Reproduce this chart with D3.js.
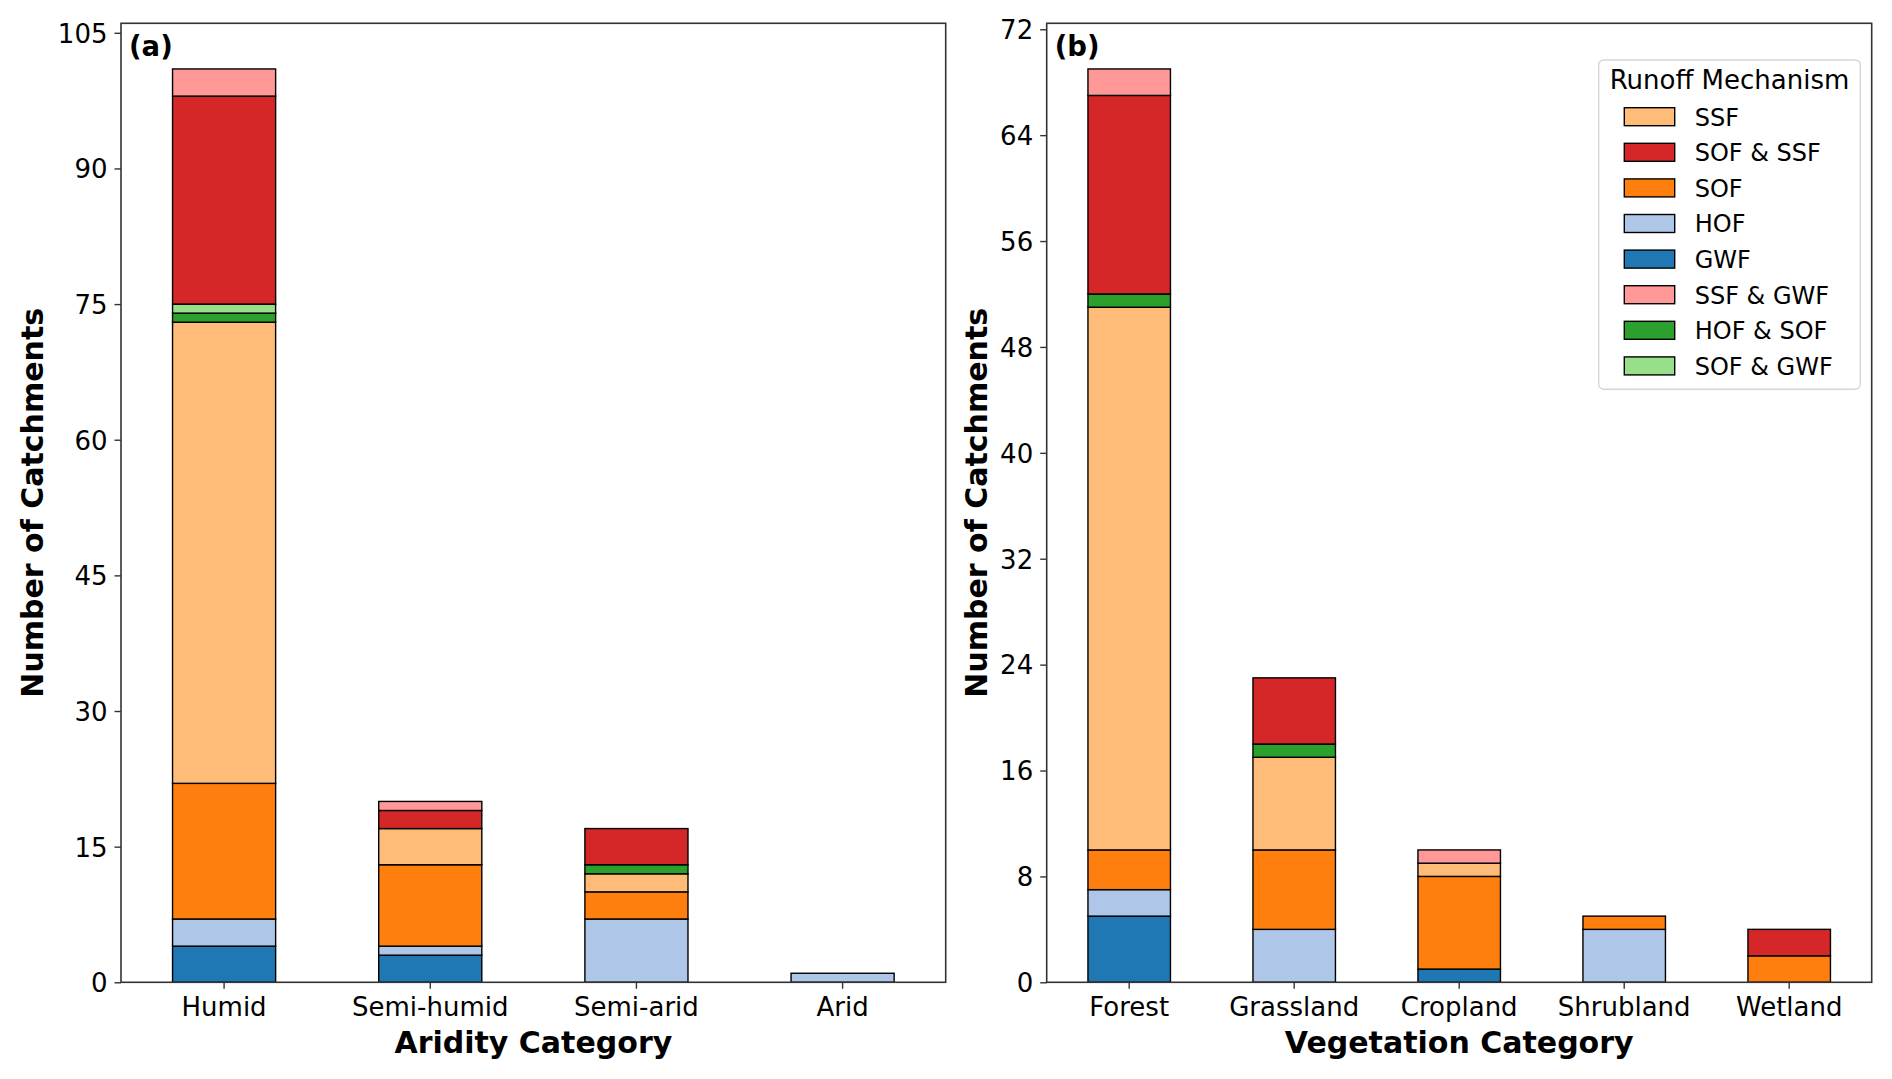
<!DOCTYPE html>
<html>
<head>
<meta charset="utf-8">
<script src="https://d3js.org/d3.v7.min.js"></script>
<style>
  body { margin: 0; background: #fff; }
  text { font-family: "DejaVu Sans", sans-serif; fill: #000; }
</style>
</head>
<body>
<script>
// stack order, bottom to top
var mechanisms = ["GWF", "HOF", "SOF", "SSF", "HOF & SOF", "SOF & GWF", "SOF & SSF", "SSF & GWF"];
var mechColors = ["#1f77b4", "#aec7e8", "#ff7f0e", "#ffbb78", "#2ca02c", "#98df8a", "#d62728", "#ff9896"];
var legendOrder = ["SSF", "SOF & SSF", "SOF", "HOF", "GWF", "SSF & GWF", "HOF & SOF", "SOF & GWF"];

var aridityCats = ["Humid", "Semi-humid", "Semi-arid", "Arid"];
var aridityGWF    = [4, 3, 0, 0];
var aridityHOF    = [3, 1, 7, 1];
var ariditySOF    = [15, 9, 3, 0];
var ariditySSF    = [51, 4, 2, 0];
var aridityHOFSOF = [1, 0, 1, 0];
var aridSOFGWF    = [1, 0, 0, 0];
var aridSOFSSF    = [23, 2, 4, 0];
var aridSSFGWF    = [3, 1, 0, 0];
var aridityTicks  = [0, 15, 30, 45, 60, 75, 90, 105];

var vegCats = ["Forest", "Grassland", "Cropland", "Shrubland", "Wetland"];
var vegGWF    = [5, 0, 1, 0, 0];
var vegHOF    = [2, 4, 0, 4, 0];
var vegSOF    = [3, 6, 7, 1, 2];
var vegSSF    = [41, 7, 1, 0, 0];
var vegHOFSOF = [1, 1, 0, 0, 0];
var vegSOFGWF = [0, 0, 0, 0, 0];
var vegSOFSSF = [15, 5, 0, 0, 2];
var vegSSFGWF = [2, 0, 1, 0, 0];
var vegTicks  = [0, 8, 16, 24, 32, 40, 48, 56, 64, 72];

var W = 1892, H = 1079;
var plotTop = 23.3, plotBottom = 982.3;

var color = d3.scaleOrdinal().domain(mechanisms).range(mechColors);

var svg = d3.select("body").append("svg")
    .attr("width", W)
    .attr("height", H);

function buildRows(cats, series) {
  return cats.map(function(c, i) {
    var row = { cat: c };
    mechanisms.forEach(function(m, j) { row[m] = series[j][i]; });
    return row;
  });
}

function drawPanel(opt) {
  var rows = buildRows(opt.cats, opt.series);
  var totals = rows.map(function(r) { return d3.sum(mechanisms, function(m) { return r[m]; }); });

  var x = d3.scaleBand()
      .domain(opt.cats)
      .range([opt.left, opt.right])
      .paddingInner(0.5)
      .paddingOuter(0.25);

  var y = d3.scaleLinear()
      .domain([0, d3.max(totals) * 1.05])
      .range([plotBottom, plotTop]);

  var g = svg.append("g");

  var stacked = d3.stack().keys(mechanisms)(rows);

  g.selectAll("g.layer")
    .data(stacked)
    .enter().append("g")
      .attr("class", "layer")
      .attr("fill", function(d) { return color(d.key); })
    .selectAll("rect")
    .data(function(d) { return d.filter(function(s) { return s[1] - s[0] > 0; }); })
    .enter().append("rect")
      .attr("x", function(d) { return x(d.data.cat); })
      .attr("width", x.bandwidth())
      .attr("y", function(d) { return y(d[1]); })
      .attr("height", function(d) { return y(d[0]) - y(d[1]); })
      .attr("stroke", "#000")
      .attr("stroke-width", 1.4);

  // axes
  var yAxis = g.append("g")
      .attr("transform", "translate(" + opt.left + ",0)")
      .call(d3.axisLeft(y).tickValues(opt.ticks).tickSize(6.5).tickPadding(7));
  var xAxis = g.append("g")
      .attr("transform", "translate(0," + plotBottom + ")")
      .call(d3.axisBottom(x).tickSize(6.5).tickPadding(6));

  [yAxis, xAxis].forEach(function(a) {
    a.select(".domain").remove();
    a.selectAll(".tick line").attr("stroke", "#333").attr("stroke-width", 1.4);
    a.selectAll(".tick text")
        .attr("fill", "#000")
        .style("font-family", "'DejaVu Sans', sans-serif")
        .style("font-size", "26px");
  });
  yAxis.selectAll(".tick text").attr("dy", "0.36em");
  xAxis.selectAll(".tick text").attr("dy", "0.8em");

  // frame
  g.append("rect")
      .attr("x", opt.left)
      .attr("y", plotTop)
      .attr("width", opt.right - opt.left)
      .attr("height", plotBottom - plotTop)
      .attr("fill", "none")
      .attr("stroke", "#333")
      .attr("stroke-width", 1.6);

  // panel letter
  g.append("text")
      .attr("x", opt.left + 8)
      .attr("y", 56)
      .style("font-size", "27.5px")
      .style("font-weight", "bold")
      .text(opt.letter);

  // axis titles
  g.append("text")
      .attr("x", (opt.left + opt.right) / 2)
      .attr("y", 1053)
      .attr("text-anchor", "middle")
      .style("font-size", "30px")
      .style("font-weight", "bold")
      .text(opt.xlabel);

  g.append("text")
      .attr("transform", "translate(" + opt.ylabelX + "," + ((plotTop + plotBottom) / 2) + ") rotate(-90)")
      .attr("text-anchor", "middle")
      .style("font-size", "30px")
      .style("font-weight", "bold")
      .text("Number of Catchments");
}

drawPanel({
  cats: aridityCats,
  series: [aridityGWF, aridityHOF, ariditySOF, ariditySSF, aridityHOFSOF, aridSOFGWF, aridSOFSSF, aridSSFGWF],
  ticks: aridityTicks,
  left: 121, right: 945.7,
  letter: "(a)",
  xlabel: "Aridity Category",
  ylabelX: 43.3
});

drawPanel({
  cats: vegCats,
  series: [vegGWF, vegHOF, vegSOF, vegSSF, vegHOFSOF, vegSOFGWF, vegSOFSSF, vegSSFGWF],
  ticks: vegTicks,
  left: 1046.7, right: 1871.7,
  letter: "(b)",
  xlabel: "Vegetation Category",
  ylabelX: 986.5
});

// legend
var legend = svg.append("g");
legend.append("rect")
    .attr("x", 1598.7)
    .attr("y", 60)
    .attr("width", 1860.3 - 1598.7)
    .attr("height", 389.3 - 60)
    .attr("rx", 5)
    .attr("fill", "#fff")
    .attr("fill-opacity", 0.8)
    .attr("stroke", "#d6d6d6")
    .attr("stroke-width", 1.4);

legend.append("text")
    .attr("x", 1729.5)
    .attr("y", 89.3)
    .attr("text-anchor", "middle")
    .style("font-size", "26px")
    .text("Runoff Mechanism");

var rowY = d3.scalePoint()
    .domain(legendOrder)
    .range([116.7, 116.7 + 35.6 * (legendOrder.length - 1)]);

var items = legend.selectAll("g.item")
    .data(legendOrder)
    .enter().append("g")
      .attr("class", "item")
      .attr("transform", function(d) { return "translate(0," + rowY(d) + ")"; });

items.append("rect")
    .attr("x", 1624.3)
    .attr("y", -9)
    .attr("width", 50.4)
    .attr("height", 18)
    .attr("fill", function(d) { return color(d); })
    .attr("stroke", "#000")
    .attr("stroke-width", 1.4);

items.append("text")
    .attr("x", 1694.7)
    .attr("y", 8.8)
    .style("font-size", "24px")
    .text(function(d) { return d; });
</script>
</body>
</html>
